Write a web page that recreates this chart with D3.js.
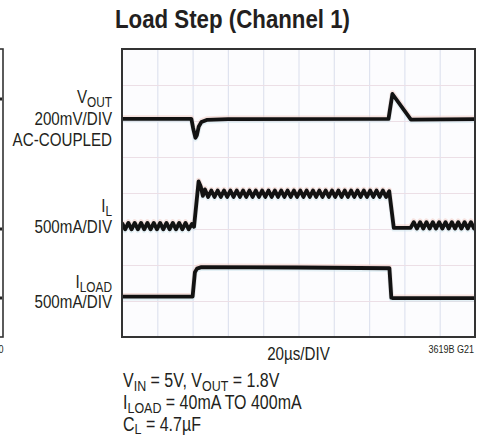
<!DOCTYPE html>
<html><head><meta charset="utf-8">
<script src="https://cdn.jsdelivr.net/npm/d3@7"></script>
<style>
html,body{margin:0;padding:0;background:#fff;}
svg{display:block;}
text{font-family:"Liberation Sans",Arial,"DejaVu Sans",sans-serif;fill:#231f20;}
</style></head>
<body>
<script>
// time in µs (20µs/DIV), vertical values in graticule divisions (0 = bottom, 8 = top)
const xTicks = [20,40,60,80,100,120,140,160,180];
const yTicks = [1,2,3,4,5,6,7];

const vout = [[0,6.06],[39.3,6.06],[40.3,5.8],[41.6,5.53],[42.4,5.6],[43.5,5.85],[45,5.97],[48,6.03],[60,6.05],[151.0,6.06],[153.2,6.75],[163.7,6.04],[200,6.05]];

const iL = [
 [0,3.17],[1.8,2.99],[3.6,3.17],[5.4,2.99],[7.2,3.17],[9.0,2.99],[10.8,3.17],[12.6,2.99],[14.4,3.17],[16.2,2.99],
 [18.0,3.17],[19.8,2.99],[21.6,3.17],[23.4,2.99],[25.2,3.17],[27.0,2.99],[28.8,3.17],[30.6,2.99],[32.4,3.17],[34.2,2.99],
 [36.0,3.17],[37.8,2.99],[39.6,3.14],[40.8,3.06],[43.4,4.32],[44.6,4.18],[45.8,3.92],[47.0,4.1],
 [48.8,3.89],[50.6,4.07],[52.4,3.89],[54.2,4.07],[56.0,3.89],[57.8,4.07],[59.6,3.89],[61.4,4.07],[63.2,3.89],[65.0,4.07],
 [66.8,3.89],[68.6,4.07],[70.4,3.89],[72.2,4.07],[74.0,3.89],[75.8,4.07],[77.6,3.89],[79.4,4.07],[81.2,3.89],[83.0,4.07],
 [84.8,3.89],[86.6,4.07],[88.4,3.89],[90.2,4.07],[92.0,3.89],[93.8,4.07],[95.6,3.89],[97.4,4.07],[99.2,3.89],[101.0,4.07],
 [102.8,3.89],[104.6,4.07],[106.4,3.89],[108.2,4.07],[110.0,3.89],[111.8,4.07],[113.6,3.89],[115.4,4.07],[117.2,3.89],[119.0,4.07],
 [120.8,3.89],[122.6,4.07],[124.4,3.89],[126.2,4.07],[128.0,3.89],[129.8,4.07],[131.6,3.89],[133.4,4.07],[135.2,3.89],[137.0,4.07],
 [138.8,3.89],[140.6,4.07],[142.4,3.89],[144.2,4.07],[146.0,3.89],[147.8,4.07],[149.6,3.89],[151.4,4.05],
 [154.0,3.03],[163.5,3.03],
 [165.3,3.19],[167.1,3.01],[168.9,3.19],[170.7,3.01],[172.5,3.19],[174.3,3.01],[176.1,3.19],[177.9,3.01],[179.7,3.19],[181.5,3.01],
 [183.3,3.19],[185.1,3.01],[186.9,3.19],[188.7,3.01],[190.5,3.19],[192.3,3.01],[194.1,3.19],[195.9,3.01],[197.7,3.19],[199.5,3.01],[200,3.1]
];

const iLoad = [[0,1.12],[40.0,1.12],[41.3,1.8],[42.5,1.9],[45,1.94],[100,1.93],[151.5,1.91],[152.6,1.09],[153.5,1.08],[200,1.08]];

// trace ends of the neighbouring (cropped) chart on the left
const prevEnds = [6.61, 3.0, 1.08];

const W = 484, H = 436;
const L = 122, R = 475, T = 49, B = 337;
const NARROW = 0.82;
const x = d3.scaleLinear().domain([0,200]).range([L,R]);
const y = d3.scaleLinear().domain([0,8]).range([B,T]);

const svg = d3.select("body").append("svg").attr("width",W).attr("height",H);

// text helper: parts = [[string, isSubscript]], condensed horizontally
function label(xx, yy, anchor, fs, parts, weight){
  const g = svg.append("g").attr("transform",`translate(${xx},${yy}) scale(${NARROW},1)`);
  const te = g.append("text").attr("text-anchor",anchor).attr("font-size",fs);
  if(weight) te.attr("font-weight",weight);
  let down = false;
  parts.forEach(p=>{
    const ts = te.append("tspan").text(p[0]);
    if(p[1]){ ts.attr("font-size",fs*0.78); if(!down){ ts.attr("dy",3.5); down=true; } }
    else if(down){ ts.attr("dy",-3.5); down=false; }
  });
  return te;
}

// neighbouring panel edge
svg.append("rect").attr("x",-20).attr("y",T).attr("width",23).attr("height",B-T)
  .attr("fill","none").attr("stroke","#333").attr("stroke-width",1.6);
svg.selectAll("line.prev").data(prevEnds).enter().append("line")
  .attr("x1",-5).attr("x2",2).attr("y1",d=>y(d)).attr("y2",d=>y(d))
  .attr("stroke","#222").attr("stroke-width",3);
label(3.5,352.5,"end",11,[["3619B G20",0]]);

// plot background
svg.append("rect").attr("x",L).attr("y",T).attr("width",R-L).attr("height",B-T).attr("fill","#fcfcfe");

// grid via axes
const gx = svg.append("g").attr("transform",`translate(0,${B})`)
  .call(d3.axisBottom(x).tickValues(xTicks).tickSize(-(B-T)).tickFormat(""));
gx.select(".domain").remove();
gx.selectAll("line").attr("stroke","#dfe3ef").attr("stroke-width",1.2);
const gy = svg.append("g").attr("transform",`translate(${L},0)`)
  .call(d3.axisLeft(y).tickValues(yTicks).tickSize(-(R-L)).tickFormat(""));
gy.select(".domain").remove();
gy.selectAll("line").attr("stroke","#ecdfe6").attr("stroke-width",1.2);

// traces
const line = d3.line().x(d=>x(d[0])).y(d=>y(d[1]));
svg.append("clipPath").attr("id","pc").append("rect").attr("x",L).attr("y",T).attr("width",R-L).attr("height",B-T);
const tg = svg.append("g").attr("clip-path","url(#pc)");
[vout,iL,iLoad].forEach(s=>{
  tg.append("path").datum(s).attr("d",line).attr("fill","none")
    .attr("stroke","#f0c4bb").attr("stroke-width",5).attr("stroke-opacity",0.45)
    .attr("transform","translate(0,-1.2)").attr("stroke-linejoin","round");
  tg.append("path").datum(s).attr("d",line).attr("fill","none")
    .attr("stroke","#c8e2ea").attr("stroke-width",5).attr("stroke-opacity",0.45)
    .attr("transform","translate(0,1.2)").attr("stroke-linejoin","round");
  tg.append("path").datum(s).attr("d",line).attr("fill","none")
    .attr("stroke","#121212").attr("stroke-width",3.8).attr("stroke-linejoin","round");
});

// frame
svg.append("rect").attr("x",L).attr("y",T).attr("width",R-L).attr("height",B-T)
  .attr("fill","none").attr("stroke","#333").attr("stroke-width",2);

// title
svg.append("text").attr("x",115).attr("y",28).attr("font-size",25).attr("font-weight","bold")
  .attr("textLength",235).attr("lengthAdjust","spacingAndGlyphs")
  .text("Load Step (Channel 1)");

// channel labels
label(112,103,"end",18.5,[["V",0],["OUT",1]]);
label(112,125,"end",18.5,[["200mV/DIV",0]]);
label(112,145.7,"end",18.5,[["AC-COUPLED",0]]);
label(112,212,"end",18.5,[["I",0],["L",1]]);
label(112,232.7,"end",18.5,[["500mA/DIV",0]]);
label(112,288,"end",18.5,[["I",0],["LOAD",1]]);
label(112,308.3,"end",18.5,[["500mA/DIV",0]]);

// x label and figure id
label((L+R)/2,360,"middle",18.5,[["20µs/DIV",0]]);
label(474,352.5,"end",11,[["3619B G21",0]]);

// conditions
const notes = [
  [["V",0],["IN",1],[" = 5V, V",0],["OUT",1],[" = 1.8V",0]],
  [["I",0],["LOAD",1],[" = 40mA TO 400mA",0]],
  [["C",0],["L",1],[" = 4.7µF",0]]
];
const noteY = [387, 409, 430.5];
notes.forEach((parts,i)=> label(123, noteY[i], "start", 19.5, parts));
</script>
</body></html>
